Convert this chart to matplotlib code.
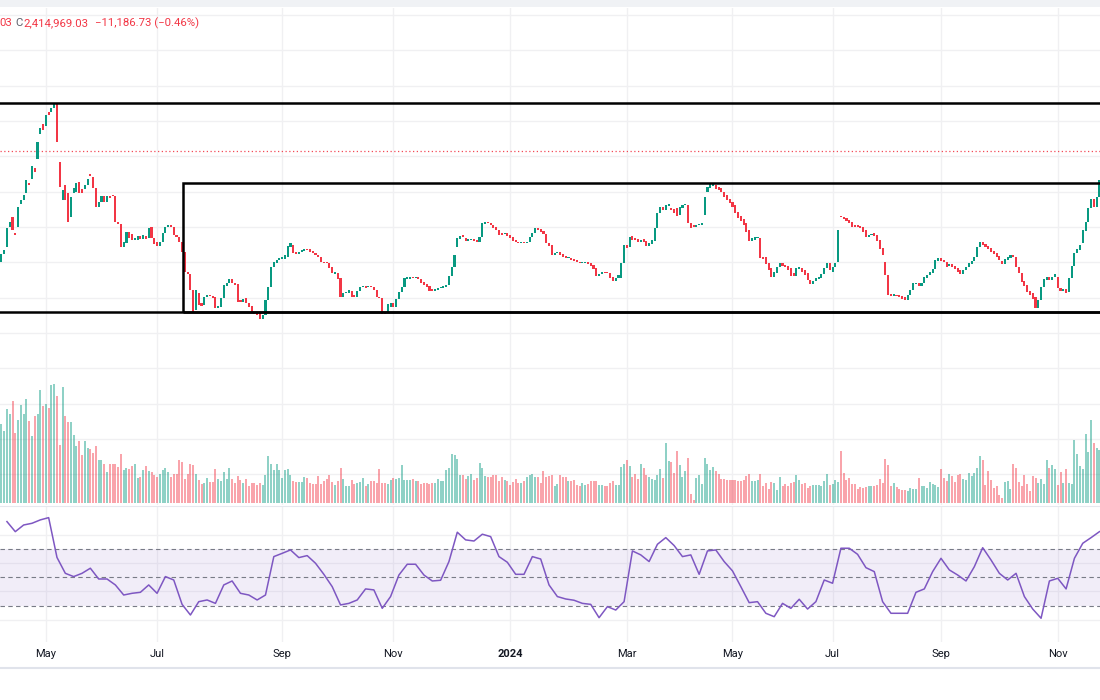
import numpy as np
import matplotlib
matplotlib.use("Agg")
import matplotlib.pyplot as plt
from matplotlib.patches import Rectangle
from matplotlib.lines import Line2D
from matplotlib.transforms import blended_transform_factory

plt.rcParams['font.family'] = ['Roboto', 'DejaVu Sans']

# ---------------- data (prices in thousands) ----------------
opens_k = [
    2187, 2211, 2232, 2292, 2322, 2274, 2292, 2361, 2373, 2394,
    2424, 2436, 2469, 2496, 2571, 2601, 2595, 2637, 2637, 2649,
    2664, 2487, 2373, 2418, 2394, 2322, 2394, 2397, 2427, 2406,
    2406, 2418, 2451, 2442, 2409, 2352, 2367, 2385, 2367, 2385,
    2388, 2385, 2307, 2301, 2232, 2244, 2277, 2271, 2253, 2253,
    2265, 2256, 2265, 2259, 2292, 2259, 2247, 2235, 2247, 2274,
    2292, 2298, 2292, 2268, 2262, 2247, 2217, 2157, 2151, 2103,
    2043, 2094, 2064, 2058, 2082, 2088, 2085, 2082, 2049, 2052,
    2079, 2115, 2124, 2136, 2124, 2121, 2073, 2067, 2079, 2064,
    2055, 2037, 2034, 2034, 2016, 2028, 2073, 2112, 2172, 2184,
    2193, 2196, 2196, 2202, 2232, 2238, 2217, 2211, 2217, 2220,
    2226, 2226, 2220, 2214, 2208, 2202, 2187, 2187, 2184, 2172,
    2151, 2154, 2139, 2082, 2094, 2094, 2100, 2088, 2082, 2100,
    2112, 2115, 2112, 2115, 2112, 2103, 2082, 2079, 2037, 2034,
    2052, 2064, 2052, 2076, 2097, 2112, 2136, 2136, 2142, 2139,
    2142, 2136, 2127, 2121, 2115, 2106, 2100, 2103, 2109, 2109,
    2112, 2118, 2145, 2172, 2232, 2256, 2268, 2259, 2250, 2253,
    2256, 2253, 2247, 2262, 2301, 2307, 2304, 2298, 2292, 2283,
    2274, 2271, 2274, 2268, 2262, 2253, 2247, 2244, 2247, 2244,
    2247, 2262, 2274, 2289, 2286, 2280, 2271, 2244, 2238, 2208,
    2214, 2217, 2211, 2205, 2199, 2199, 2196, 2193, 2187, 2184,
    2184, 2187, 2184, 2178, 2169, 2145, 2151, 2157, 2157, 2154,
    2142, 2130, 2139, 2139, 2184, 2238, 2232, 2265, 2259, 2256,
    2247, 2256, 2250, 2235, 2241, 2250, 2289, 2334, 2352, 2343,
    2355, 2349, 2346, 2349, 2328, 2349, 2358, 2358, 2304, 2298,
    2292, 2298, 2298, 2328, 2397, 2409, 2415, 2418, 2412, 2409,
    2397, 2388, 2376, 2367, 2358, 2337, 2325, 2316, 2304, 2283,
    2250, 2253, 2259, 2259, 2202, 2202, 2184, 2169, 2142, 2154,
    2172, 2184, 2178, 2175, 2169, 2154, 2145, 2166, 2169, 2163,
    2154, 2133, 2121, 2130, 2136, 2139, 2151, 2169, 2184, 2157,
    2172, 2187, 2325, 2322, 2319, 2313, 2307, 2298, 2298, 2295,
    2292, 2283, 2262, 2268, 2274, 2268, 2253, 2229, 2187, 2148,
    2091, 2085, 2088, 2088, 2085, 2082, 2073, 2088, 2103, 2121,
    2124, 2115, 2124, 2139, 2148, 2154, 2166, 2190, 2199, 2193,
    2187, 2175, 2181, 2175, 2169, 2163, 2151, 2163, 2172, 2181,
    2190, 2202, 2232, 2247, 2241, 2235, 2229, 2220, 2214, 2205,
    2190, 2181, 2193, 2199, 2208, 2202, 2172, 2154, 2130, 2118,
    2100, 2094, 2082, 2049, 2073, 2112, 2133, 2142, 2133, 2142,
    2142, 2109, 2100, 2106, 2097, 2139, 2175, 2214, 2223, 2244,
    2280, 2307, 2349, 2376, 2352, 2382,
]
closes_k = [
    2211, 2223, 2289, 2307, 2283, 2268, 2352, 2373, 2388, 2433,
    2418, 2475, 2457, 2547, 2589, 2583, 2628, 2628, 2649, 2664,
    2547, 2412, 2403, 2373, 2307, 2382, 2409, 2424, 2394, 2394,
    2418, 2436, 2445, 2409, 2352, 2367, 2385, 2367, 2385, 2379,
    2385, 2307, 2301, 2232, 2247, 2277, 2259, 2253, 2259, 2265,
    2256, 2268, 2256, 2289, 2259, 2241, 2235, 2247, 2274, 2292,
    2298, 2292, 2268, 2262, 2247, 2217, 2157, 2151, 2103, 2037,
    2103, 2058, 2055, 2082, 2088, 2085, 2079, 2049, 2055, 2079,
    2118, 2124, 2136, 2124, 2118, 2067, 2067, 2076, 2064, 2052,
    2034, 2031, 2028, 2016, 2028, 2073, 2112, 2172, 2187, 2193,
    2199, 2202, 2208, 2235, 2244, 2214, 2211, 2217, 2223, 2226,
    2223, 2217, 2214, 2208, 2202, 2187, 2184, 2184, 2169, 2154,
    2157, 2136, 2082, 2094, 2097, 2103, 2082, 2082, 2100, 2112,
    2115, 2109, 2115, 2112, 2103, 2082, 2079, 2031, 2031, 2061,
    2064, 2052, 2076, 2097, 2112, 2139, 2142, 2142, 2139, 2142,
    2136, 2124, 2118, 2112, 2100, 2100, 2106, 2109, 2112, 2115,
    2118, 2145, 2172, 2208, 2259, 2265, 2262, 2250, 2256, 2256,
    2250, 2247, 2262, 2304, 2307, 2304, 2298, 2289, 2283, 2268,
    2268, 2274, 2265, 2259, 2250, 2247, 2244, 2247, 2244, 2247,
    2262, 2274, 2289, 2283, 2277, 2271, 2244, 2235, 2208, 2214,
    2217, 2208, 2202, 2199, 2202, 2193, 2190, 2187, 2184, 2187,
    2187, 2181, 2175, 2166, 2145, 2151, 2157, 2154, 2154, 2139,
    2130, 2139, 2148, 2184, 2238, 2229, 2262, 2253, 2253, 2247,
    2253, 2247, 2235, 2244, 2253, 2289, 2334, 2352, 2343, 2358,
    2361, 2343, 2334, 2325, 2352, 2358, 2361, 2304, 2289, 2292,
    2298, 2301, 2304, 2382, 2412, 2421, 2421, 2406, 2403, 2397,
    2382, 2373, 2364, 2352, 2334, 2319, 2310, 2298, 2277, 2250,
    2259, 2262, 2262, 2199, 2196, 2181, 2163, 2142, 2157, 2172,
    2184, 2175, 2172, 2163, 2145, 2145, 2169, 2172, 2157, 2148,
    2133, 2121, 2130, 2139, 2142, 2151, 2169, 2184, 2163, 2172,
    2184, 2283, 2322, 2316, 2310, 2304, 2292, 2292, 2292, 2289,
    2277, 2262, 2268, 2271, 2265, 2250, 2226, 2208, 2148, 2088,
    2085, 2091, 2085, 2082, 2076, 2073, 2088, 2103, 2124, 2124,
    2115, 2124, 2142, 2148, 2157, 2166, 2193, 2199, 2190, 2187,
    2172, 2181, 2172, 2166, 2157, 2151, 2163, 2172, 2184, 2190,
    2202, 2232, 2247, 2238, 2232, 2226, 2217, 2211, 2202, 2193,
    2181, 2196, 2202, 2208, 2202, 2172, 2154, 2127, 2115, 2097,
    2088, 2076, 2049, 2073, 2112, 2136, 2142, 2133, 2142, 2151,
    2109, 2100, 2106, 2094, 2139, 2175, 2214, 2226, 2238, 2283,
    2307, 2349, 2376, 2352, 2382, 2433,
]

volume_2023a = [
    79, 72, 94, 89, 102, 70, 83, 98, 89, 104,
    82, 67, 87, 89, 113, 97, 99, 95, 118, 119,
    107, 58, 116, 87, 81, 81, 68, 57, 62, 48,
    62, 55, 54, 50, 57, 43, 43, 39, 31, 39,
    39, 39, 36, 49, 33, 35, 34, 37, 39, 25,
    26, 33, 37, 32, 31, 28, 26, 29, 33, 35,
    31, 26, 29, 29, 43, 41, 24, 29, 39, 38,
    29, 23, 19, 20, 25, 21, 21, 34, 24, 22,
    31, 24, 35, 24, 20, 27, 23, 20, 24, 17,
    20, 20, 18, 20, 18, 28, 47, 39, 33, 39,
    33, 25, 33, 34, 28, 22, 21, 21, 21, 26,
    25, 20, 19, 19, 27, 19, 22, 24, 28, 21,
    18, 22, 35, 24, 17, 17, 23, 19, 20, 21,
    25, 17,
]
volume_2023b = [
    19, 22, 22, 20, 34, 20, 20, 19, 23, 25,
    24, 25, 38, 23, 23, 23, 24, 22, 22, 19,
    20, 20, 19, 20, 20, 24, 22, 22, 33, 35,
    49, 48, 44, 28, 28, 24, 27, 29, 23, 25,
    40, 35, 27, 26, 26, 28, 28, 22, 26, 23,
    22, 18, 21, 24, 20, 20, 22, 26, 28, 29,
    26, 26, 20, 32, 26, 27, 28, 17, 19, 28,
    26, 26, 22, 22, 23, 18, 17, 20, 18, 19,
    22, 22, 22, 18, 18, 17, 17, 20, 22, 18,
    18, 36, 39, 43, 37, 26, 29, 24, 39, 35,
    28, 26, 24, 23, 28, 34, 25, 60, 42, 41,
    30, 52, 38, 26, 32, 45, 9, 3, 25, 28, 19,
    45, 39, 33, 36, 32, 29, 24, 24, 23,
]
volume_2024 = [
    23, 23, 23, 22, 22, 23, 27, 29, 22, 22,
    23, 29, 17, 20, 14, 21, 20, 13, 26,
    17, 19, 17, 20, 21, 28, 23, 19, 20, 15,
    17, 18, 18, 18, 17, 22, 29, 18, 19, 23,
    21, 52, 30, 23, 25, 19, 19, 14, 16, 15,
    16, 17, 17, 17, 18, 24, 20, 44, 38, 17,
    20, 16, 14, 13, 13, 12, 15, 14, 14, 25,
    17, 17, 15, 21, 19, 18, 16, 34, 25, 22,
    29, 27, 21, 28, 29, 24, 23, 30, 27, 30,
    35, 47, 43, 18, 32, 23, 15, 17, 8, 5,
    21, 22, 14, 39, 35, 21, 17, 28, 19, 12,
    27, 25, 20, 24, 19, 43, 35, 38, 34, 18,
    31, 20, 34, 20, 19, 63, 49, 37, 34, 69,
    51, 83, 60, 55, 53,
]

# RSI(14) read every 3rd bar, starting at bar 2
rsi_values = [
    89.3, 82.2, 86.9, 88.1, 90.5, 92.1, 64.0, 52.8, 50.5, 52.8,
    56.4, 48.8, 48.8, 44.6, 37.5, 38.7, 39.4, 44.6, 38.7, 50.5,
    48.1, 30.9, 23.4, 32.8, 34.0, 31.6, 44.6, 47.4, 38.7, 37.5,
    34.0, 37.5, 64.6, 66.9, 69.3, 63.9, 65.3, 59.9, 52.1, 43.4,
    30.5, 31.6, 34.0, 41.8,
    41.1, 28.1, 36.4, 51.6, 59.2, 59.2, 51.6, 47.4, 47.9, 61.1,
    81.8, 76.4, 75.6, 80.4, 78.7, 64.6, 60.6, 52.1, 52.1, 64.6,
    62.9, 44.6, 36.4, 34.7, 33.8, 31.6, 30.9, 21.5, 29.3, 26.9,
    32.8, 68.6, 65.8, 61.1, 73.3, 78.0, 72.4, 64.6, 65.8, 52.1,
    68.6, 69.3, 61.1,
    54.5, 43.4, 32.1, 32.8, 24.6, 22.2, 31.6, 28.1, 34.5, 27.6,
    32.8, 48.1, 45.8, 70.5, 70.5, 66.2, 56.8, 54.0, 32.8, 24.6,
    24.6, 24.6, 39.4, 41.8, 54.0, 63.4, 55.2, 51.6, 47.4, 57.5,
    70.9, 62.2, 52.8, 48.1, 52.8, 36.4, 27.6, 21.1, 47.4, 49.3,
    41.8, 63.4, 74.0, 78.0, 82.2,
]
rsi_first_bar, rsi_bar_step = 2, 3

month_bars = [16, 56, 101, 141, 183, 225, 263, 299, 338, 380]
month_labels = ["May", "Jul", "Sep", "Nov", "2024", "Mar", "May", "Jul", "Sep", "Nov"]

resistance_k = 2664      # upper horizontal line
support_k = 2038         # lower horizontal line
range_top_k = 2424       # top of the range box
range_start_bar = 65.3   # left side of the range box
ref_level_k = 2520       # dotted reference line

# ---------------- styling ----------------
UP, DOWN = '#089981', '#f23645'
GRID = '#f0f0f2'
W, H = 1100, 700


def fy(py):
    return 1 - py / H


fig = plt.figure(figsize=(11, 7), dpi=100)
fig.patch.set_facecolor('white')

ax = fig.add_axes([0, fy(505), 1, (505 - 8) / H])
axv = ax.twinx()
axr = fig.add_axes([0, fy(642), 1, (642 - 507) / H], sharex=ax)

O = np.array(opens_k, dtype=float) * 1000
C = np.array(closes_k, dtype=float) * 1000
V = np.array(volume_2023a + volume_2023b + volume_2024, dtype=float)
n = min(len(O), len(C), len(V))
O, C, V = O[:n], C[:n], V[:n]
idx = np.arange(n)
up = C >= O

# layer order: volume axes behind price axes
axv.set_zorder(1)
ax.set_zorder(2)
ax.patch.set_visible(False)
axv.patch.set_visible(True)
axv.patch.set_facecolor('white')

ax.set_xlim(-0.5, 395.2)
ax.set_ylim(1458000, 2949000)
axv.set_ylim(-2.3, 494.7)

# grid (drawn on the back axes)
grid_levels = np.arange(1550, 2929, 106) * 1000
tr = blended_transform_factory(axv.transAxes, ax.transData)
for lv in grid_levels:
    axv.plot([0, 1], [lv, lv], transform=tr, color=GRID, lw=1.0, zorder=0)
for b in month_bars:
    axv.axvline(b, color=GRID, lw=1.0, zorder=0)

# volume
vcol = np.where(up, UP, DOWN)
axv.bar(idx, V, width=0.72, color=vcol, alpha=0.45, linewidth=0, zorder=2)

# candles
body_bottom = np.minimum(O, C)
body_h = np.maximum(np.abs(C - O), 1800)
ax.bar(idx, body_h, bottom=body_bottom, width=0.75,
       color=np.where(up, UP, DOWN), linewidth=0, zorder=3)

# drawings
ax.axhline(resistance_k * 1000, color='black', lw=1.8, zorder=4)
ax.axhline(support_k * 1000, color='black', lw=1.8, zorder=4)
ax.add_patch(Rectangle((range_start_bar, support_k * 1000), 500,
                       (range_top_k - support_k) * 1000, fill=False,
                       edgecolor='black', lw=1.8, zorder=4))
ax.axhline(ref_level_k * 1000, color=DOWN, lw=0.9, ls=(0, (1, 2)), alpha=0.9, zorder=2)

for a in (ax, axv, axr):
    for s in a.spines.values():
        s.set_visible(False)
ax.tick_params(left=False, right=False, bottom=False, labelleft=False, labelbottom=False)
axv.tick_params(left=False, right=False, labelright=False)
axv.set_yticks([])
ax.set_yticks([])

# RSI pane
axr.set_ylim(4.34, 99.6)
for lv in (20, 40, 60, 80):
    axr.axhline(lv, color=GRID, lw=1.0, zorder=0)
for b in month_bars:
    axr.axvline(b, color=GRID, lw=1.0, zorder=0)
axr.axhspan(30, 70, color='#7E57C2', alpha=0.1, lw=0, zorder=1)
for lv in (30, 50, 70):
    axr.axhline(lv, color='#787B86', lw=0.8, ls=(0, (4, 3)), zorder=2)
rsi_x = rsi_first_bar + rsi_bar_step * np.arange(len(rsi_values))
axr.plot(rsi_x, rsi_values, color='#7E57C2', lw=1.1, zorder=3)
axr.set_yticks([])
axr.set_xticks(month_bars)
axr.set_xticklabels(month_labels)
axr.tick_params(axis='x', length=0, pad=5, labelsize=8, labelcolor='#131722')
axr.get_xticklabels()[4].set_fontweight('bold')

# frame elements
fig.add_artist(Rectangle((0, fy(7)), 1, 7 / H, transform=fig.transFigure,
                         facecolor='#f0f2f5', edgecolor='none'))
fig.add_artist(Line2D([0, 1], [fy(506), fy(506)], transform=fig.transFigure,
                      color='#e6e8ee', lw=0.8))
fig.add_artist(Line2D([0, 1], [fy(667.5), fy(667.5)], transform=fig.transFigure,
                      color='#e0e3eb', lw=1.5))

# legend line (top-left)
ty = fy(23)
fig.text(-1 / W, ty, "03", color=DOWN, fontsize=8.2, va='center', ha='left')
fig.text(15 / W, ty, "C", color='#5d606b', fontsize=8.2, va='center', ha='left')
fig.text(23.5 / W, ty, "2,414,969.03", color=DOWN, fontsize=8.2, va='center', ha='left')
fig.text(95 / W, ty, "\u221211,186.73 (\u22120.46%)", color=DOWN, fontsize=8.2,
         va='center', ha='left')

fig.savefig('out.png', dpi=100)
